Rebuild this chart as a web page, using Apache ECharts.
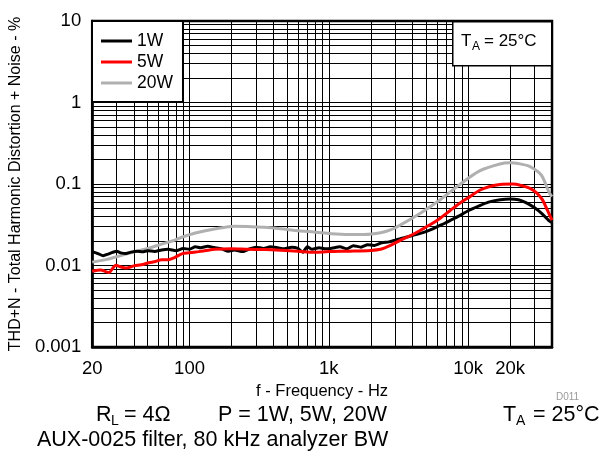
<!DOCTYPE html>
<html><head><meta charset="utf-8">
<script src="https://cdn.jsdelivr.net/npm/echarts@6/dist/echarts.min.js"></script>
<style>html,body{margin:0;padding:0;background:#fff}#c{width:606px;height:461px}</style>
</head><body><div id="c"></div>
<script>
// ---- data (frequency in Hz, THD+N in %) ----
const freq1W = [20,22,24,26,28,30,32,35,38,42,46,50,56,63,70,80,90,100,110,120,135,150,170,190,210,240,270,300,340,380,430,480,540,600,650,700,760,850,950,1050,1200,1350,1500,1700,1900,2100,2400,2700,3000,3300,3700,4200,4800,5400,6000,6800,7500,8500,10000,12000,14000,17000,20000,23000,26000,30000,34000,38000,40000];
const thd1W  = [0.0148,0.0140,0.0132,0.0138,0.0145,0.0150,0.0143,0.0140,0.0146,0.0150,0.0147,0.0152,0.0149,0.0155,0.0158,0.0152,0.0162,0.0158,0.0170,0.0165,0.0172,0.0166,0.0160,0.0150,0.0155,0.0148,0.0160,0.0168,0.0162,0.0170,0.0165,0.0160,0.0168,0.0162,0.0145,0.0170,0.0158,0.0165,0.0160,0.0163,0.0170,0.0160,0.0175,0.0168,0.0180,0.0176,0.0190,0.0195,0.0205,0.0215,0.0225,0.0240,0.0255,0.0275,0.0300,0.0330,0.0360,0.0400,0.0470,0.0540,0.0600,0.0640,0.0655,0.0640,0.0590,0.0510,0.0430,0.0355,0.0335];

const freq5W = [20,23,25,26.5,28,29.5,32,35,40,45,51,57,63,70,78,88,100,116,135,151,200,263,350,455,600,785,1000,1400,2000,2350,2800,3300,4000,4550,5400,6300,7400,8700,10300,12100,14300,16900,20900,24000,27600,31000,34200,37000,40000];
const thd5W  = [0.0085,0.0088,0.0084,0.0082,0.0092,0.0101,0.0096,0.0093,0.0099,0.0102,0.0108,0.0112,0.0118,0.0118,0.0125,0.0139,0.0143,0.0148,0.0154,0.0158,0.0160,0.0158,0.0157,0.0154,0.0150,0.0145,0.0148,0.0150,0.0153,0.0158,0.0178,0.0206,0.0240,0.0271,0.0320,0.0381,0.0470,0.0580,0.0700,0.0839,0.0930,0.0985,0.0998,0.0960,0.0891,0.0780,0.0639,0.0480,0.0360];

const freq20W = [20,25,29.4,35,42,51,63,75,88,110,151,210,260,345,450,600,800,1040,1400,1800,2350,2800,3270,4540,6300,8740,12100,16900,19900,23000,27600,32000,34200,38300,40000];
const thd20W  = [0.0110,0.0118,0.0127,0.0138,0.0150,0.0163,0.0183,0.0200,0.0222,0.0250,0.0280,0.0304,0.0302,0.0294,0.0282,0.0267,0.0256,0.0245,0.0240,0.0240,0.0252,0.0275,0.0315,0.0438,0.0640,0.0990,0.145,0.176,0.182,0.178,0.165,0.140,0.122,0.0775,0.070];

const seriesNames = ['1W','5W','20W'];
const xTickLabels = [20,100,1000,10000,20000];
const yTickLabels = [0.001,0.01,0.1,1,10];
const xMin = 20, xMax = 40000, yMin = 0.001, yMax = 10;

// grid line values (1..9 x decades)
function gridValues(lo, hi){
  const out = [];
  for (let e = -4; e <= 6; e++) {
    for (let m = 1; m <= 9; m++) {
      const v = +(m * Math.pow(10, e)).toPrecision(6);
      if (v >= lo - 1e-12 && v <= hi + 1e-9) out.push(v);
    }
  }
  return out;
}
const xGrid = gridValues(xMin, xMax);
const yGrid = gridValues(yMin, yMax);

const FONT = 'Liberation Sans, Arial, sans-serif';
const pairs = (xs, ys) => xs.map((x, i) => [x, ys[i]]);

const chart = echarts.init(document.getElementById('c'), null, {renderer: 'canvas'});
chart.setOption({
  animation: false,
  backgroundColor: '#fff',
  grid: {left: 90, right: 54, top: 21, bottom: 114, show: true, borderColor: '#000', borderWidth: 2.5, containLabel: false},
  xAxis: {
    type: 'log', min: xMin, max: xMax, logBase: 10,
    name: 'f - Frequency - Hz', nameLocation: 'middle', nameGap: 30,
    nameTextStyle: {fontFamily: FONT, fontSize: 16.5, color: '#000'},
    axisLine: {show: true, lineStyle: {color: '#000', width: 2.5}},
    axisTick: {show: false, customValues: xGrid},
    splitLine: {show: true, lineStyle: {color: '#000', width: 1}},
    axisLabel: {customValues: xTickLabels, margin: 12, fontFamily: FONT, fontSize: 18.5, color: '#000',
      formatter: v => v >= 1000 ? (v / 1000) + 'k' : String(v)}
  },
  yAxis: {
    type: 'log', min: yMin, max: yMax, logBase: 10,
    name: 'THD+N - Total Harmonic Distortion + Noise - %', nameLocation: 'middle', nameGap: 61,
    nameTextStyle: {fontFamily: FONT, fontSize: 16, color: '#000'},
    axisLine: {show: true, lineStyle: {color: '#000', width: 2.5}},
    axisTick: {show: false, customValues: yGrid},
    splitLine: {show: true, lineStyle: {color: '#000', width: 1}},
    axisLabel: {customValues: yTickLabels, margin: 11, fontFamily: FONT, fontSize: 18.5, color: '#000',
      formatter: v => String(+v.toPrecision(3))}
  },
  legend: {
    data: seriesNames, orient: 'vertical', left: 92, top: 21,
    backgroundColor: '#fff', borderColor: '#000', borderWidth: 2, borderRadius: 0,
    padding: [11, 10, 10, 9], itemWidth: 31, itemHeight: 3, itemGap: 3, itemTextGap: 12,
    icon: 'rect', textStyle: {fontFamily: FONT, fontSize: 17.5, color: '#000'}, z: 10
  },
  series: [
    {name: '20W', type: 'line', data: pairs(freq20W, thd20W), showSymbol: false, smooth: 0.3,
      lineStyle: {color: '#b0b0b0', width: 3}, itemStyle: {color: '#b0b0b0'}, z: 3},
    {name: '1W', type: 'line', data: pairs(freq1W, thd1W), showSymbol: false, smooth: 0.2,
      lineStyle: {color: '#000', width: 3}, itemStyle: {color: '#000'}, z: 4},
    {name: '5W', type: 'line', data: pairs(freq5W, thd5W), showSymbol: false, smooth: 0.3,
      lineStyle: {color: '#ff0000', width: 3}, itemStyle: {color: '#ff0000'}, z: 5}
  ],
  graphic: [
    {type: 'rect', left: 452, top: 21, z: 20, shape: {width: 99, height: 44},
      style: {fill: '#fff', stroke: '#000', lineWidth: 1.5}},
    {type: 'text', left: 461, top: 33, z: 21, style: {text: 'T', font: '17px ' + FONT, fill: '#000'}},
    {type: 'text', left: 472, top: 41, z: 21, style: {text: 'A', font: '12px ' + FONT, fill: '#000'}},
    {type: 'text', left: 484, top: 33, z: 21, style: {text: '= 25°C', font: '17px ' + FONT, fill: '#000'}},

    {type: 'text', left: 556, top: 392, style: {text: 'D011', font: '10px ' + FONT, fill: '#999'}},

    {type: 'text', left: 96, top: 404, style: {text: 'R', font: '21.5px ' + FONT, fill: '#000'}},
    {type: 'text', left: 111, top: 414, style: {text: 'L', font: '14px ' + FONT, fill: '#000'}},
    {type: 'text', left: 124, top: 404, style: {text: '= 4Ω', font: '21.5px ' + FONT, fill: '#000'}},
    {type: 'text', left: 218, top: 404, style: {text: 'P = 1W, 5W, 20W', font: '21.5px ' + FONT, fill: '#000'}},
    {type: 'text', left: 503, top: 404, style: {text: 'T', font: '21.5px ' + FONT, fill: '#000'}},
    {type: 'text', left: 516, top: 414, style: {text: 'A', font: '14px ' + FONT, fill: '#000'}},
    {type: 'text', left: 533, top: 404, style: {text: '= 25°C', font: '21.5px ' + FONT, fill: '#000'}},
    {type: 'text', left: 37, top: 429, style: {text: 'AUX-0025 filter, 80 kHz analyzer BW', font: '21.5px ' + FONT, fill: '#000'}}
  ]
});
</script>
</body></html>
